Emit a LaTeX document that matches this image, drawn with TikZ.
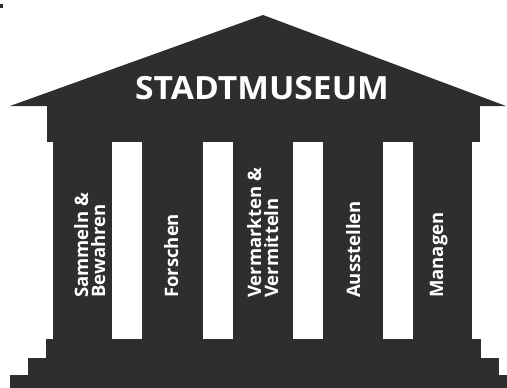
\documentclass[tikz,border=0pt]{standalone}
\usepackage{fontspec}
\setmainfont{Open Sans}
\definecolor{stone}{HTML}{2E2E2E}
\begin{document}
\begin{tikzpicture}[x=1pt,y=-1pt,
  part/.style={fill=stone,draw=none},
  title/.style={text=white,font=\fontsize{32}{32}\selectfont\bfseries,inner sep=0pt,anchor=base,xscale=1.05},
  pillarlabel/.style={text=white,font=\fontsize{18.5}{17}\selectfont\bfseries,inner sep=0pt,
    rotate=90,anchor=base west,align=left}]
\useasboundingbox (0,0) rectangle (507,388);
% small mark in the corner
\fill[stone] (0,4) rectangle (3,8);
% roof and entablature
\fill[part] (10,106) -- (263,15) -- (506,106) -- cycle;
\fill[part] (47,105) rectangle (480,141.5);
% five pillars
\foreach \a/\b in {53/112,142/203,233/293,323/383,413/472}
  \fill[part] (\a,141) rectangle (\b,339.5);
% three steps
\fill[part] (46,339) rectangle (481,358.5);
\fill[part] (28,358) rectangle (499,375.5);
\fill[part] (10,375) rectangle (507,388);
% labels (the base anchor of a two-line label sits on its last line)
\node[title] (museum) at (262,99) {STADTMUSEUM};
\node[pillarlabel] (sammeln) at (105,298) {Sammeln \&\\Bewahren};
\node[pillarlabel] (forschen) at (178,298) {Forschen};
\node[pillarlabel] (vermarkten) at (278,298) {Vermarkten \&\\Vermitteln};
\node[pillarlabel] (ausstellen) at (360,298) {Ausstellen};
\node[pillarlabel] (managen) at (443,298) {Managen};
\end{tikzpicture}
\end{document}
